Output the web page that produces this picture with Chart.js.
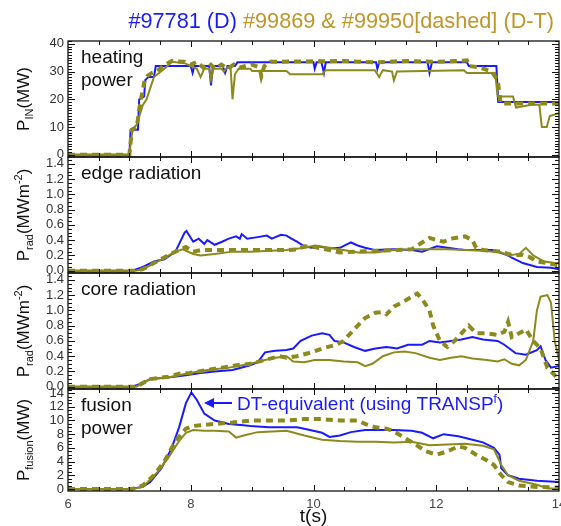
<!DOCTYPE html>
<html>
<head>
<meta charset="utf-8">
<script src="https://cdn.jsdelivr.net/npm/chart.js@4.4.1/dist/chart.umd.min.js"></script>
<style>
    html, body { margin: 0; padding: 0; background: #fff; }
    #wrap { width: 561px; height: 526px; }
</style>
</head>
<body>
<div id="wrap"><canvas id="plasmaChart" width="561" height="526"></canvas></div>
<script>
// time axis (s)
var tMin = 6, tMax = 14;

// heating power P_IN (MW)
var heatBlueT = [6, 7.0, 7.02, 7.14, 7.16, 7.24, 7.26, 7.31, 7.40, 7.43, 8.0, 8.03, 8.06, 8.30, 8.33, 8.36, 8.52, 8.56, 8.60, 8.72, 8.76, 10.0, 10.02, 10.05, 10.13, 10.17, 10.20, 11.02, 11.04, 11.07, 11.86, 11.89, 11.93, 12.50, 12.53, 12.98, 13.01, 14];
var heatBlue = [0, 0, 9, 9, 20, 21, 27, 28, 28, 32, 32, 29.5, 32, 32, 25, 32, 32, 29.5, 32, 32, 33.3, 33.3, 31, 33.3, 33.3, 29.5, 33.3, 33.3, 31, 33.3, 33.3, 29.5, 33.3, 33.3, 32, 32, 19, 19];
var heatSolidT = [6, 7.0, 7.05, 7.12, 7.22, 7.28, 7.40, 7.57, 7.69, 7.90, 8.10, 8.16, 8.22, 8.30, 8.33, 8.37, 8.50, 8.54, 8.60, 8.65, 8.68, 8.72, 8.78, 8.97, 9.00, 9.56, 9.62, 10.14, 10.20, 11.00, 11.07, 11.13, 11.28, 11.31, 11.36, 12.45, 12.50, 12.96, 13.00, 13.25, 13.30, 13.55, 13.68, 13.72, 13.80, 13.85, 14];
var heatSolid = [0, 0, 9, 11, 18, 20, 28, 31, 33.5, 33, 31, 28, 31, 31, 27, 31, 31, 30, 31.5, 31, 20, 29, 31, 31, 30.2, 30.2, 29, 29, 30.5, 30.5, 28, 30.5, 30, 26.8, 30, 30.5, 29.5, 29.5, 21, 21, 17, 18, 18, 10, 10, 14, 15];
var heatDashT = [6, 7.0, 7.04, 7.12, 7.18, 7.25, 7.30, 7.37, 7.45, 7.55, 7.69, 7.90, 8.00, 8.10, 8.20, 8.30, 8.40, 8.50, 8.60, 8.70, 8.80, 9.00, 9.12, 9.15, 9.20, 9.30, 10.50, 11.00, 11.50, 12.00, 12.50, 12.53, 12.70, 12.90, 13.00, 13.05, 14];
var heatDash = [0, 0, 9, 10, 19, 27, 28.5, 29.5, 30, 32, 33.8, 33.5, 32.5, 33.5, 31.5, 33, 31, 32.5, 31, 32.5, 31.5, 32.5, 31.5, 28.3, 32, 33.5, 33.8, 33.3, 33.8, 33.5, 34, 32, 31.5, 30, 27, 18.5, 18.5];

// edge radiation P_rad (MW m^-2)
var edgeBlueT = [6, 7.05, 7.22, 7.40, 7.57, 7.75, 7.90, 7.93, 8.04, 8.13, 8.22, 8.27, 8.39, 8.51, 8.62, 8.74, 8.80, 8.83, 8.92, 9.09, 9.24, 9.32, 9.47, 9.56, 9.64, 9.73, 9.85, 9.97, 10.08, 10.26, 10.43, 10.61, 10.72, 10.84, 11.01, 11.31, 11.60, 11.77, 12.01, 12.18, 12.36, 12.47, 12.70, 12.94, 13.17, 13.23, 13.41, 13.64, 13.87, 14];
var edgeBlue = [0, 0, 0.05, 0.12, 0.15, 0.25, 0.5, 0.52, 0.38, 0.42, 0.35, 0.4, 0.34, 0.38, 0.42, 0.45, 0.42, 0.48, 0.42, 0.44, 0.46, 0.42, 0.47, 0.46, 0.42, 0.38, 0.32, 0.3, 0.32, 0.29, 0.3, 0.37, 0.33, 0.3, 0.27, 0.28, 0.27, 0.25, 0.32, 0.3, 0.28, 0.27, 0.27, 0.27, 0.2, 0.17, 0.1, 0.05, 0.04, 0.02];
var edgeSolidT = [6, 7.10, 7.22, 7.46, 7.75, 7.87, 8.04, 8.16, 8.39, 8.68, 8.97, 9.56, 9.85, 10.02, 10.26, 10.49, 10.72, 11.01, 11.31, 11.60, 11.89, 12.18, 12.47, 12.76, 13.06, 13.17, 13.35, 13.46, 13.58, 13.76, 13.93, 14];
var edgeSolid = [0, 0, 0.02, 0.12, 0.25, 0.28, 0.22, 0.2, 0.22, 0.25, 0.25, 0.27, 0.3, 0.33, 0.3, 0.27, 0.24, 0.24, 0.27, 0.28, 0.28, 0.28, 0.27, 0.26, 0.24, 0.2, 0.22, 0.3, 0.2, 0.12, 0.1, 0.1];
var edgeDashT = [6, 7.10, 7.22, 7.40, 7.63, 7.75, 7.92, 8.04, 8.16, 8.39, 8.97, 9.56, 9.73, 9.85, 10.02, 10.26, 10.43, 10.72, 11.01, 11.31, 11.60, 11.77, 11.89, 12.01, 12.12, 12.24, 12.47, 12.59, 12.65, 12.76, 13.06, 13.17, 13.29, 13.41, 13.52, 13.64, 13.81, 14];
var edgeDash = [0, 0, 0.02, 0.1, 0.2, 0.25, 0.31, 0.25, 0.27, 0.27, 0.27, 0.27, 0.28, 0.32, 0.31, 0.27, 0.24, 0.25, 0.26, 0.27, 0.28, 0.37, 0.43, 0.4, 0.38, 0.42, 0.45, 0.4, 0.3, 0.27, 0.25, 0.22, 0.2, 0.21, 0.18, 0.12, 0.1, 0.07];

// core radiation P_rad (MW m^-2)
var coreBlueT = [6, 7.05, 7.22, 7.34, 7.63, 7.92, 8.16, 8.39, 8.68, 8.97, 9.09, 9.21, 9.38, 9.56, 9.67, 9.79, 9.97, 10.14, 10.26, 10.34, 10.49, 10.66, 10.84, 11.01, 11.19, 11.36, 11.54, 11.77, 11.89, 12.06, 12.24, 12.41, 12.59, 12.76, 13.00, 13.11, 13.29, 13.46, 13.64, 13.70, 13.78, 13.87, 14];
var coreBlue = [0, 0, 0.05, 0.1, 0.12, 0.15, 0.18, 0.2, 0.22, 0.28, 0.32, 0.45, 0.47, 0.48, 0.5, 0.6, 0.67, 0.7, 0.68, 0.6, 0.58, 0.52, 0.47, 0.5, 0.52, 0.5, 0.55, 0.55, 0.6, 0.58, 0.6, 0.62, 0.65, 0.62, 0.6, 0.55, 0.44, 0.42, 0.48, 0.53, 0.35, 0.25, 0.27];
var coreSolidT = [6, 7.11, 7.34, 7.63, 7.92, 8.27, 8.62, 8.97, 9.21, 9.38, 9.56, 9.67, 9.85, 10.02, 10.26, 10.49, 10.72, 10.84, 10.96, 11.13, 11.31, 11.48, 11.66, 11.89, 12.06, 12.24, 12.41, 12.59, 12.82, 13.00, 13.11, 13.23, 13.35, 13.46, 13.58, 13.64, 13.70, 13.81, 13.87, 13.93, 14];
var coreSolid = [0, 0, 0.1, 0.12, 0.17, 0.22, 0.25, 0.3, 0.35, 0.38, 0.4, 0.33, 0.32, 0.35, 0.35, 0.33, 0.32, 0.27, 0.3, 0.4, 0.45, 0.46, 0.44, 0.38, 0.35, 0.38, 0.4, 0.37, 0.35, 0.33, 0.36, 0.3, 0.28, 0.35, 0.6, 1.0, 1.18, 1.2, 1.1, 0.6, 0.35];
var coreDashT = [6, 7.11, 7.34, 7.63, 7.81, 7.98, 8.27, 8.51, 8.74, 8.97, 9.21, 9.44, 9.56, 9.73, 9.97, 10.14, 10.37, 10.49, 10.66, 10.84, 11.01, 11.13, 11.19, 11.31, 11.48, 11.60, 11.69, 11.77, 11.89, 11.95, 12.06, 12.18, 12.30, 12.47, 12.53, 12.65, 12.82, 13.00, 13.11, 13.17, 13.23, 13.35, 13.46, 13.58, 13.70, 13.81, 13.93, 14];
var coreDash = [0, 0, 0.1, 0.13, 0.17, 0.18, 0.22, 0.25, 0.28, 0.3, 0.35, 0.4, 0.38, 0.4, 0.45, 0.5, 0.55, 0.6, 0.75, 0.9, 0.97, 0.98, 0.95, 1.05, 1.12, 1.18, 1.22, 1.15, 1.0, 0.8, 0.6, 0.52, 0.6, 0.75, 0.8, 0.7, 0.7, 0.68, 0.72, 0.85, 0.65, 0.7, 0.75, 0.6, 0.5, 0.25, 0.15, 0.2];

// fusion power P_fusion (MW)
var fusBlueT = [6, 7.0, 7.22, 7.34, 7.52, 7.69, 7.81, 7.92, 8.01, 8.10, 8.22, 8.39, 8.62, 8.86, 8.97, 9.27, 9.56, 9.73, 9.85, 10.14, 10.26, 10.43, 10.61, 10.84, 11.01, 11.31, 11.60, 11.77, 11.95, 12.12, 12.36, 12.59, 12.76, 12.94, 13.03, 13.06, 13.17, 13.35, 13.64, 14];
var fusBlue = [0, 0, 0.3, 1, 3, 6, 9, 12.5, 14.1, 13, 11, 10, 9.5, 9.3, 9.2, 9.0, 9.0, 9.0, 8.8, 8.2, 7.6, 7.8, 8.3, 8.6, 8.6, 8.6, 8.5, 8.2, 7.4, 8.0, 7.7, 7.2, 6.8, 6.0, 5.0, 3.0, 2.0, 1.5, 1.2, 1.0];
var fusSolidT = [6, 7.05, 7.22, 7.46, 7.63, 7.81, 7.92, 8.04, 8.22, 8.39, 8.62, 8.74, 8.86, 9.09, 9.32, 9.56, 9.85, 10.14, 10.43, 10.72, 11.01, 11.31, 11.60, 11.89, 12.18, 12.47, 12.76, 12.94, 13.06, 13.17, 13.35, 13.64, 13.81, 14];
var fusSolid = [0, 0, 0.3, 2.5, 4.5, 7, 8.2, 8.6, 8.5, 8.5, 8.4, 7.5, 7.8, 8.3, 8.4, 8.5, 7.8, 7.2, 7.0, 6.9, 6.9, 6.8, 6.9, 6.4, 6.5, 6.6, 6.3, 5.8, 3.5, 2.0, 1.2, 0.6, 0.1, 0];
var fusDashT = [6, 7.05, 7.22, 7.40, 7.57, 7.75, 7.92, 8.04, 8.16, 8.39, 8.68, 8.97, 9.27, 9.56, 9.85, 10.14, 10.43, 10.72, 10.84, 11.01, 11.19, 11.31, 11.48, 11.66, 11.83, 12.01, 12.18, 12.36, 12.47, 12.65, 12.82, 12.94, 13.06, 13.17, 13.35, 13.64, 14];
var fusDash = [0, 0, 0.5, 2, 4, 7, 8.8, 9.2, 9.3, 9.5, 9.7, 10, 10, 10, 10.2, 10.2, 10, 10, 9.5, 9, 8.8, 8.4, 7.5, 6.5, 5.5, 5, 5.5, 6.2, 6, 5, 4.2, 3.5, 2, 1, 0.5, 0.3, 0.2];

var FONT = "'Liberation Sans', Arial, sans-serif";
var BLUE = '#1a1aff';
var OLIVE = '#8c8a1c';
var GOLD = '#c0962a';

// panel axes, top to bottom
var panels = [
    { id: 'yIN', min: -0.8, max: 41, step: 10, minor: 1, h: 116, name: ['heating', 'power'],
      label: [['P', 17, 0], ['IN', 11, 4], ['(MW)', 17, 0]] },
    { id: 'yEdge', min: -0.03, max: 1.49, step: 0.2, minor: 0.05, h: 116, name: ['edge radiation'],
      label: [['P', 17, 0], ['rad', 11, 4], ['(MWm', 17, 0], ['-2', 11, -7], [')', 17, 0]] },
    { id: 'yCore', min: -0.03, max: 1.49, step: 0.2, minor: 0.05, h: 116, name: ['core radiation'],
      label: [['P', 17, 0], ['rad', 11, 4], ['(MWm', 17, 0], ['-2', 11, -7], [')', 17, 0]] },
    { id: 'yFus', min: -0.3, max: 14.6, step: 2, minor: 0.5, h: 102, name: ['fusion', 'power'],
      label: [['P', 17, 0], ['fusion', 11, 4], ['(MW)', 17, 0]] }
];

function pts(ts, vs) {
    return ts.map(function (t, i) { return { x: t, y: vs[i] }; });
}

function series(label, ts, vs, axis, kind) {
    var ds = {
        label: label,
        data: pts(ts, vs),
        yAxisID: axis,
        borderColor: kind === 'blue' ? BLUE : OLIVE,
        borderWidth: kind === 'dash' ? 4 : 2,
        pointRadius: 0,
        tension: 0,
        fill: false
    };
    if (kind === 'dash') ds.borderDash = [7, 5];
    return ds;
}

var datasets = [
    series('#99950 heating', heatDashT, heatDash, 'yIN', 'dash'),
    series('#99869 heating', heatSolidT, heatSolid, 'yIN', 'solid'),
    series('#97781 heating', heatBlueT, heatBlue, 'yIN', 'blue'),
    series('#99950 edge', edgeDashT, edgeDash, 'yEdge', 'dash'),
    series('#99869 edge', edgeSolidT, edgeSolid, 'yEdge', 'solid'),
    series('#97781 edge', edgeBlueT, edgeBlue, 'yEdge', 'blue'),
    series('#99950 core', coreDashT, coreDash, 'yCore', 'dash'),
    series('#99869 core', coreSolidT, coreSolid, 'yCore', 'solid'),
    series('#97781 core', coreBlueT, coreBlue, 'yCore', 'blue'),
    series('#99950 fusion', fusDashT, fusDash, 'yFus', 'dash'),
    series('#99869 fusion', fusSolidT, fusSolid, 'yFus', 'solid'),
    series('#97781 fusion', fusBlueT, fusBlue, 'yFus', 'blue')
];

var scales = {
    x: {
        type: 'linear', position: 'bottom', min: tMin, max: tMax,
        grid: { display: false, drawTicks: false },
        border: { display: false },
        ticks: { stepSize: 2, autoSkip: false, includeBounds: false, maxRotation: 0, padding: 6,
                 color: '#444', font: { family: FONT, size: 13 } },
        title: { display: true, text: 't(s)', color: '#111', padding: 0,
                 font: { family: FONT, size: 19, lineHeight: 1 } },
        afterFit: function (s) {
            s.height = 35;
            // let the end labels hang out of the plot, like the original
            s.paddingLeft = 0;
            s.paddingRight = 0;
        }
    }
};
panels.forEach(function (p, i) {
    scales[p.id] = {
        type: 'linear', position: 'left', stack: 'panels', stackWeight: p.h, weight: panels.length - i,
        min: p.min, max: p.max,
        grid: { display: false, drawTicks: false },
        border: { display: false },
        ticks: {
            stepSize: p.step, autoSkip: false, includeBounds: false, padding: 4,
            color: '#333', font: { family: FONT, size: 13 },
            callback: function (v) { return p.step < 1 ? v.toFixed(1) : String(Math.round(v)); }
        },
        afterFit: function (s) {
            s.width = 68;
            s.paddingTop = 0;
            s.paddingBottom = 0;
        }
    };
});

function drawRich(ctx, parts, x, y, rotate) {
    ctx.save();
    ctx.translate(x, y);
    if (rotate) ctx.rotate(-Math.PI / 2);
    ctx.textBaseline = 'alphabetic';
    ctx.textAlign = 'left';
    var total = 0;
    parts.forEach(function (p) {
        ctx.font = p[1] + 'px ' + FONT;
        p.w = ctx.measureText(p[0]).width;
        total += p.w;
    });
    var u = rotate ? -total / 2 : 0;
    parts.forEach(function (p) {
        ctx.font = p[1] + 'px ' + FONT;
        ctx.fillText(p[0], u, p[2]);
        u += p.w;
    });
    ctx.restore();
}

var framePlugin = {
    id: 'frames',
    afterDatasetsDraw: function (chart) {
        var ctx = chart.ctx, area = chart.chartArea, xs = chart.scales.x;
        ctx.save();
        ctx.strokeStyle = '#111';
        panels.forEach(function (p) {
            var s = chart.scales[p.id];
            ctx.lineWidth = 1.3;
            ctx.strokeRect(area.left, s.top, area.right - area.left, s.bottom - s.top);
            ctx.lineWidth = 1;
            ctx.beginPath();
            var k0 = Math.ceil(p.min / p.minor), k1 = Math.floor(p.max / p.minor);
            for (var k = k0; k <= k1; k++) {
                var v = k * p.minor;
                var r = v / p.step;
                var len = Math.abs(r - Math.round(r)) < 1e-6 ? 7 : 4;
                var y = Math.round(s.getPixelForValue(v)) + 0.5;
                ctx.moveTo(area.left, y); ctx.lineTo(area.left + len, y);
                ctx.moveTo(area.right, y); ctx.lineTo(area.right - len, y);
            }
            for (var j = tMin * 2 + 1; j < tMax * 2; j++) {
                var t = j / 2;
                var tl = t % 2 === 0 ? 6 : 4;
                var x = Math.round(xs.getPixelForValue(t)) + 0.5;
                ctx.moveTo(x, s.bottom); ctx.lineTo(x, s.bottom - tl);
                ctx.moveTo(x, s.top); ctx.lineTo(x, s.top + tl);
            }
            ctx.stroke();
        });
        ctx.restore();
    },
    afterDraw: function (chart) {
        var ctx = chart.ctx, area = chart.chartArea;
        ctx.save();
        // title in two colours, sized to span the same width as the original
        var t1 = '#97781 (D) ', t2 = '#99869 & #99950[dashed] (D-T)';
        ctx.font = '20px ' + FONT;
        var size = 20 * 425 / ctx.measureText(t1 + t2).width;
        ctx.font = size.toFixed(1) + 'px ' + FONT;
        ctx.textBaseline = 'alphabetic';
        var w1 = ctx.measureText(t1).width, w2 = ctx.measureText(t2).width;
        var x0 = 554 - w1 - w2;
        ctx.fillStyle = BLUE;
        ctx.fillText(t1, x0, 28);
        ctx.fillStyle = GOLD;
        ctx.fillText(t2, x0 + w1, 28);

        panels.forEach(function (p) {
            var s = chart.scales[p.id];
            ctx.fillStyle = '#111';
            drawRich(ctx, p.label, 29, (s.top + s.bottom) / 2, true);
            ctx.font = '19px ' + FONT;
            ctx.textBaseline = 'middle';
            p.name.forEach(function (line, i) {
                ctx.fillText(line, area.left + 13, s.top + 17 + i * 23);
            });
        });

        // DT-equivalent annotation
        var yA = 403;
        ctx.strokeStyle = BLUE;
        ctx.fillStyle = BLUE;
        ctx.lineWidth = 2;
        ctx.beginPath();
        ctx.moveTo(232, yA); ctx.lineTo(210, yA);
        ctx.stroke();
        ctx.beginPath();
        ctx.moveTo(204, yA); ctx.lineTo(214, yA - 5); ctx.lineTo(214, yA + 5);
        ctx.closePath();
        ctx.fill();
        drawRich(ctx, [['DT-equivalent (using TRANSP', 19, 0], ['f', 12, -7], [')', 19, 0]], 237, yA + 7, false);
        ctx.restore();
    }
};

var ctxPlasma = document.getElementById('plasmaChart').getContext('2d');
var plasmaChart = new Chart(ctxPlasma, {
    type: 'line',
    data: { datasets: datasets },
    options: {
        responsive: false,
        animation: false,
        devicePixelRatio: 1,
        layout: { autoPadding: false, padding: { left: 0, right: 2, top: 41, bottom: 0 } },
        scales: scales,
        plugins: {
            legend: { display: false },
            title: { display: false },
            tooltip: { enabled: false }
        }
    },
    plugins: [framePlugin]
});
</script>
</body>
</html>
